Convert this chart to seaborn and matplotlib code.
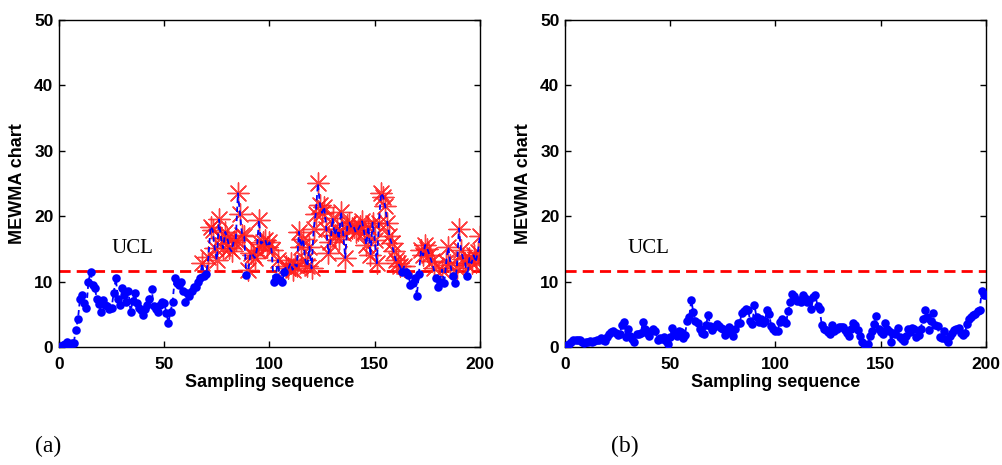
import numpy as np
import pandas as pd
import matplotlib
matplotlib.use("Agg")
import matplotlib.pyplot as plt
import seaborn as sns

# MEWMA statistic, panel (a): shifted process
mewma_a = [
    0.0, 0.1, 0.3, 0.5, 0.8, 0.5, 0.6, 0.6, 2.6, 4.2,
    7.4, 7.9, 6.7, 5.9, 10.0, 11.5, 9.5, 9.0, 7.4, 6.5,
    5.4, 7.2, 6.4, 6.2, 5.8, 6.0, 8.2, 10.5, 7.4, 6.4,
    9.0, 8.0, 6.9, 8.5, 5.4, 7.0, 8.2, 6.7, 6.0, 5.6,
    4.9, 5.8, 6.4, 7.4, 8.9, 6.2, 5.8, 5.4, 6.4, 6.9,
    6.7, 5.2, 3.7, 5.4, 6.9, 10.5, 9.8, 9.5, 10.0, 8.5,
    6.9, 8.2, 7.8, 8.5, 9.2, 9.2, 10.0, 10.5, 12.8, 10.8,
    11.2, 13.7, 18.4, 17.9, 15.1, 13.3, 19.5, 16.6, 15.1, 17.6,
    16.6, 15.1, 14.6, 16.1, 16.4, 23.5, 20.4, 17.1, 16.9, 11.0,
    11.8, 14.3, 14.1, 13.6, 14.8, 19.4, 15.8, 16.1, 16.4, 15.3,
    16.0, 14.8, 9.9, 10.7, 13.3, 10.2, 9.9, 11.5, 12.3, 12.0,
    12.8, 11.8, 12.6, 12.3, 17.6, 15.3, 16.5, 13.3, 12.3, 15.3,
    12.0, 18.0, 20.4, 25.0, 21.7, 20.5, 21.4, 18.1, 14.3, 16.0,
    19.7, 17.1, 18.1, 16.5, 20.7, 17.4, 13.6, 18.6, 19.0, 18.2,
    18.4, 17.5, 17.9, 18.5, 19.2, 17.5, 15.6, 18.4, 14.0, 19.0,
    16.4, 12.8, 19.0, 23.5, 23.0, 21.5, 19.0, 17.0, 15.9, 14.6,
    13.3, 12.8, 12.3, 11.5, 12.3, 11.5, 11.0, 9.5, 9.7, 10.5,
    7.8, 11.2, 14.8, 14.0, 15.6, 15.0, 14.1, 13.1, 12.0, 10.5,
    9.2, 10.0, 11.8, 9.7, 13.0, 15.3, 12.5, 10.8, 9.7, 12.0,
    18.1, 14.8, 13.5, 12.8, 10.8, 13.6, 12.8, 14.0, 13.0, 14.5,
    16.9,
]

# MEWMA statistic, panel (b): in-control process
mewma_b = [
    0.0, 0.3, 0.5, 0.8, 1.0, 1.1, 1.0, 1.1, 0.8, 0.6,
    0.7, 0.8, 0.9, 0.7, 0.9, 1.0, 1.1, 1.3, 1.0, 0.9,
    1.5, 2.0, 2.3, 2.5, 2.2, 1.8, 2.0, 3.3, 3.8, 1.5,
    2.8, 1.6, 1.2, 0.8, 2.0, 1.9, 2.1, 3.8, 2.8, 2.2,
    1.7, 2.4, 2.8, 2.5, 1.0, 1.4, 1.2, 1.5, 0.9, 0.5,
    1.5, 2.9, 2.2, 1.7, 2.5, 2.3, 1.3, 1.8, 4.0, 4.6,
    7.1, 5.3, 4.0, 3.6, 2.8, 2.2, 2.0, 3.3, 4.9, 3.2,
    2.6, 3.0, 3.5, 3.2, 2.9, 2.8, 1.8, 2.2, 3.0, 2.6,
    1.7, 2.8, 3.6, 3.7, 5.2, 5.5, 5.8, 5.6, 4.0, 3.5,
    6.4, 4.5, 3.8, 4.2, 3.6, 4.0, 5.6, 5.0, 3.2, 2.8,
    2.5, 2.4, 3.8, 4.2, 3.9, 3.6, 5.5, 6.8, 8.1, 7.8,
    7.0, 7.2, 6.9, 8.0, 7.5, 6.8, 7.2, 5.8, 7.6, 7.9,
    6.2, 5.8, 3.3, 2.8, 2.6, 2.3, 2.0, 3.3, 2.5, 2.8,
    3.0, 3.1, 3.0, 2.6, 2.2, 1.6, 2.8, 3.6, 3.4, 2.6,
    1.6, 0.8, 0.5, 0.3, 0.4, 1.6, 2.5, 3.5, 4.8, 2.8,
    2.3, 1.9, 3.6, 2.8, 2.5, 0.8, 2.2, 2.0, 2.9, 1.5,
    1.2, 0.9, 1.6, 2.7, 2.3, 2.9, 2.8, 1.5, 1.8, 2.8,
    4.2, 5.6, 4.6, 2.6, 4.0, 5.2, 3.3, 3.2, 1.5, 1.3,
    2.5, 1.2, 0.8, 1.6, 2.2, 2.6, 2.8, 2.9, 2.2, 1.8,
    2.1, 3.5, 4.2, 4.6, 4.9, 5.0, 5.5, 5.6, 8.6, 8.0,
    8.0,
]

ucl = 11.6
panel_labels = ["(a)", "(b)"]
panel_label_x = [-0.057, 0.109]
ucl_text_x = [25, 29.5]
x_ticks = [0, 50, 100, 150, 200]
y_ticks = [0, 10, 20, 30, 40, 50]

sns.set_style("ticks")
plt.rcParams["font.family"] = ["Liberation Sans", "DejaVu Sans"]
plt.rcParams["text.color"] = "black"
plt.rcParams["axes.labelcolor"] = "black"

fig = plt.figure(figsize=(10.03, 4.65), dpi=100)
ax_a = fig.add_axes([0.0588, 0.254, 0.4197, 0.703])
ax_b = fig.add_axes([0.5633, 0.254, 0.4197, 0.703])

serif = ["Liberation Serif", "DejaVu Serif"]

for ax, series, label, lx, tx in zip([ax_a, ax_b], [mewma_a, mewma_b],
                                     panel_labels, panel_label_x, ucl_text_x):
    df = pd.DataFrame({"k": np.arange(len(series)), "stat": series})
    df["alarm"] = df["stat"] > ucl

    # control limit
    ax.axhline(ucl, color="red", lw=2.0, ls=(0, (4, 2.2)), zorder=1)

    # alarms as asterisks, under the trace
    alarms = df[df["alarm"]]
    if len(alarms):
        sns.scatterplot(data=alarms, x="k", y="stat", ax=ax,
                        marker=(8, 2, 0), s=230, color="#ff2020",
                        edgecolor="#ff2020", linewidth=1.0, alpha=0.85,
                        zorder=2, legend=False)

    # dashed trace through all samples
    sns.lineplot(data=df, x="k", y="stat", ax=ax, color="blue",
                 lw=1.3, ls=(0, (3, 2)), zorder=3, legend=False)

    # in-control samples as filled dots
    normal = df[~df["alarm"]]
    sns.scatterplot(data=normal, x="k", y="stat", ax=ax, marker="o",
                    s=38, color="blue", edgecolor="blue", linewidth=0,
                    zorder=4, legend=False)

    ax.set_xlim(0, 200)
    ax.set_ylim(0, 50)
    ax.set_xticks(x_ticks)
    ax.set_yticks(y_ticks)
    ax.tick_params(direction="in", length=4, width=1, top=True, right=True,
                   labelsize=12.5, colors="black")
    ax.tick_params(axis="x", pad=7)
    ax.tick_params(axis="y", pad=4)
    for t in ax.get_xticklabels() + ax.get_yticklabels():
        t.set_fontweight("bold")
    for sp in ax.spines.values():
        sp.set_visible(True)
        sp.set_linewidth(1.0)
        sp.set_color("black")
    ax.set_xlabel("Sampling sequence", fontsize=13, fontweight="bold",
                  labelpad=2)
    ax.set_ylabel("MEWMA chart", fontsize=13, fontweight="bold",
                  labelpad=6)
    ax.text(tx, 15.1, "UCL", fontsize=15, va="center", ha="left",
            family=serif)
    ax.text(lx, -0.305, label, transform=ax.transAxes, fontsize=17,
            va="center", ha="left", family=serif)

fig.savefig("out.png", dpi=100)
